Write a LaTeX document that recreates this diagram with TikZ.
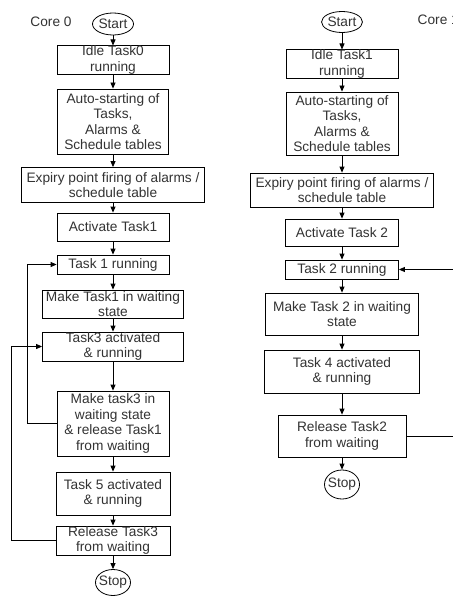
\documentclass[tikz,border=0pt]{standalone}
\usepackage{fontspec}
\setmainfont{Liberation Sans}
\usetikzlibrary{arrows.meta,shapes.geometric}
\newcommand\TaskBox[6]{%
    \node[taskbox,minimum width=#4,minimum height=#5] (#1) at (#2,#3) {#6};
}

\begin{document}
\begin{tikzpicture}[x=1pt,y=-1pt,line width=0.8pt,
    taskbox/.style={draw,rectangle,align=center,inner sep=0pt,text=black!80,
        font=\fontsize{13.7}{15.5}\selectfont},
    term/.style={draw,ellipse,inner sep=0pt,text=black!80,
        font=\fontsize{13.7}{15.5}\selectfont},
    arr/.style={-{Triangle[length=6pt,width=5pt]}}]
    \fill[white] (0,0) rectangle (452,596);
    \useasboundingbox (0,0) rectangle (452,596);
    \begin{scope} % Core 0
        \node[text=black!80,font=\fontsize{13.7}{15.5}\selectfont] (core0) at (51,22) {Core 0};
        \node[term,minimum width=41,minimum height=22] (s0) at (113,24) {Start};
        \TaskBox{idle0}{113}{60}{112}{28}{Idle Task0\\running}
        \TaskBox{auto0}{113}{121.5}{111}{65}{Auto-starting of\\Tasks,\\Alarms \&\\Schedule tables}
        \TaskBox{exp0}{113}{185}{183}{35}{Expiry point firing of alarms /\\schedule table}
        \TaskBox{act1}{113}{227}{112}{28}{Activate Task1}
        \TaskBox{run1}{113}{264.5}{112}{19}{Task 1 running}
        \TaskBox{wait1}{113}{304}{141}{28}{Make Task1 in waiting\\state}
        \TaskBox{run3}{113}{346.5}{141}{29}{Task3 activated\\\& running}
        \TaskBox{wait3}{113}{423.5}{112}{65}{Make task3 in\\waiting state\\\& release Task1\\from waiting}
        \TaskBox{run5}{113}{493.5}{114}{43}{Task 5 activated\\\& running}
        \TaskBox{rel3}{113}{540.5}{114}{29}{Release Task3\\from waiting}
        \node[term,inner sep=-2.5pt,minimum width=35,minimum height=26] (e0) at (113,582.5) {Stop};
        \foreach \a/\b in {s0/idle0,idle0/auto0,auto0/exp0,exp0/act1,act1/run1,run1/wait1,
                wait1/run3,run3/wait3,wait3/run5,run5/rel3,rel3/e0}
            \draw[arr] (\a) -- (\b);
        \draw[arr] (wait3.west) -- ++(-29,0) |- (run1.west);
        \draw[arr] (rel3.west) -- ++(-44,0) |- (run3.west);
    \end{scope}
    \begin{scope} % Core 1
        \node[anchor=west,text=black!80,font=\fontsize{13.7}{15.5}\selectfont] (core1) at (414,20) {Core 1};
        \node[term,minimum width=40,minimum height=21] (s1) at (342,22) {Start};
        \TaskBox{idle1}{342}{64}{112}{28}{Idle Task1\\running}
        \TaskBox{auto1}{342}{123.5}{112}{63}{Auto-starting of\\Tasks,\\Alarms \&\\Schedule tables}
        \TaskBox{exp1}{342}{190}{183}{34}{Expiry point firing of alarms /\\schedule table}
        \TaskBox{act2}{342}{232.5}{113}{27}{Activate Task 2}
        \TaskBox{run2}{342}{269.5}{113}{19}{Task 2 running}
        \TaskBox{wait2}{342}{314}{153}{42}{Make Task 2 in waiting\\state}
        \TaskBox{run4}{342}{371.5}{155}{43}{Task 4 activated\\\& running}
        \TaskBox{rel2}{342}{436}{128}{42}{Release Task2\\from waiting}
        \node[term,inner sep=-2.5pt,minimum width=35,minimum height=29] (e1) at (342,484.5) {Stop};
        \foreach \a/\b in {s1/idle1,idle1/auto1,auto1/exp1,exp1/act2,act2/run2,run2/wait2,
                wait2/run4,run4/rel2,rel2/e1}
            \draw[arr] (\a) -- (\b);
        \draw[arr] (rel2.east) -- ++(60,0) |- (run2.east);
    \end{scope}
\end{tikzpicture}
\end{document}
